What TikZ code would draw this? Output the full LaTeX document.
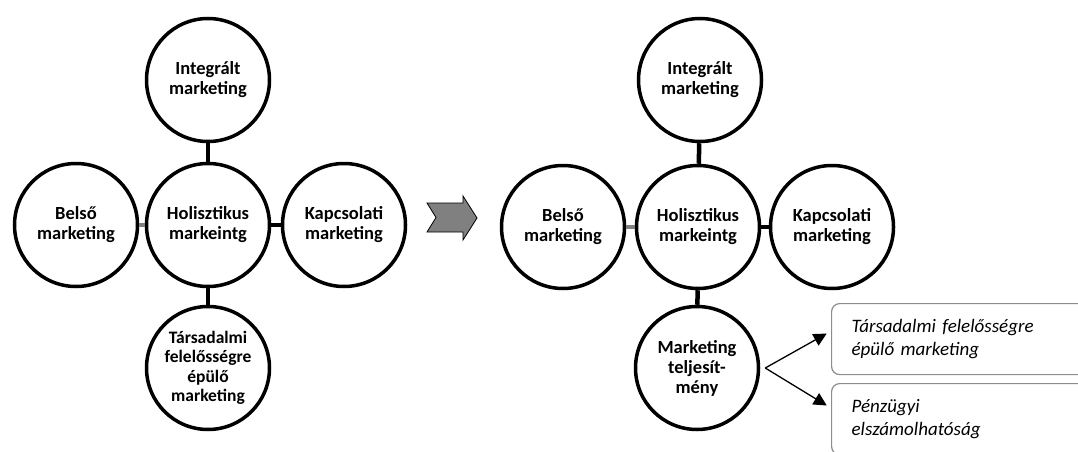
\documentclass[tikz,border=0pt]{standalone}
\usepackage{fontspec}
\setmainfont{Carlito}
\usetikzlibrary{arrows.meta}

\begin{document}
\begin{tikzpicture}[x=1pt, y=-1pt,
        kor/.style={circle, draw, line width=3.5pt, minimum size=123pt, inner sep=0pt,
            align=center, font=\fontsize{18.5}{20}\selectfont\bfseries},
        rud/.style={line width=4.5pt},
        halvany/.style={rud, draw=black!50},
        doboz/.style={draw=black!45, line width=1.2pt, rounded corners=8pt, anchor=north west,
            minimum width=262pt, minimum height=71pt, text width=222pt, inner xsep=20pt,
            align=left, font=\fontsize{19}{23}\selectfont\itshape},
        nyil/.style={line width=1.3pt, -{Triangle[length=13pt, width=13pt]}}]
    \useasboundingbox (0, 0) rectangle (1078, 452);
    \clip (0, 0) rectangle (1078, 452);

    % left group
    \node[kor] (ahol) at (208, 225) {Holisztikus\\markeintg};
    \node[kor] (aint) at (208, 80) {Integrált\\marketing};
    \node[kor] (abel) at (76, 225) {Belső\\marketing};
    \node[kor] (akap) at (344, 225) {Kapcsolati\\marketing};
    \node[kor, font=\fontsize{17.5}{19.5}\selectfont\bfseries] (atars) at (208, 368)
        {Társadalmi\\felelősségre\\épülő\\marketing};
    \draw[rud] (aint) -- (ahol);
    \draw[rud] (ahol) -- (atars);
    \draw[rud] (ahol) -- (akap);
    \draw[halvany] (abel) -- (ahol);

    % arrow between the two
    \draw[fill=black!50, line width=0.8pt] (427, 203) -- (463, 203) -- (463, 196) -- (477, 218)
        -- (463, 240) -- (463, 232) -- (427, 232) -- (436, 217.5) -- cycle;

    % right group
    \node[kor] (bhol) at (698, 227) {Holisztikus\\markeintg};
    \node[kor] (bint) at (700, 80) {Integrált\\marketing};
    \node[kor] (bbel) at (563, 227) {Belső\\marketing};
    \node[kor] (bkap) at (832, 227) {Kapcsolati\\marketing};
    \node[kor] (btel) at (697, 368) {Marketing\\teljesít-\\mény};
    \draw[rud] (bint) -- (bhol);
    \draw[rud] (bhol) -- (btel);
    \draw[rud] (bhol) -- (bkap);
    \draw[halvany] (bbel) -- (bhol);

    \node[doboz] (btars) at (831, 303) {Társadalmi felelősségre\\épülő marketing};
    \node[doboz] (bpenz) at (831, 383) {Pénzügyi\\elszámolhatóság};
    \coordinate (bki) at ([xshift=5pt]btel.east);
    \draw[nyil, shorten >=5pt] (bki) -- ([yshift=8pt]btars.west);
    \draw[nyil, shorten >=5pt] (bki) -- ([yshift=11pt]bpenz.west);
\end{tikzpicture}
\end{document}
